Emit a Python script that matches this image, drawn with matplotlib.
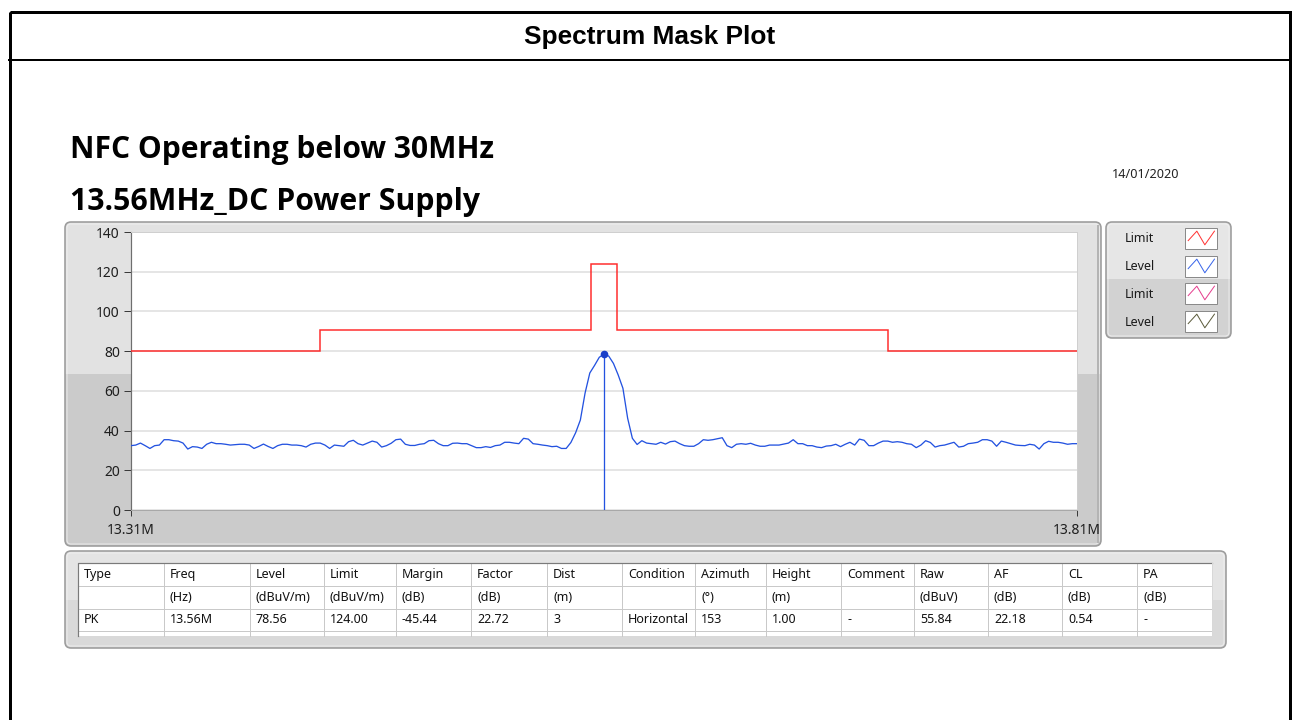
import numpy as np
import matplotlib
matplotlib.use("Agg")
import matplotlib.pyplot as plt
from matplotlib.patches import Rectangle, FancyBboxPatch
from matplotlib import font_manager as fm

# ---------------- data ----------------
freq_start, freq_stop = 13.31, 13.81          # MHz
level = [
    32.4, 32.7, 33.7, 32.4, 31.0, 32.4, 32.7, 35.4, 35.4, 34.9,
    34.7, 33.7, 30.7, 31.9, 31.7, 31.0, 33.1, 34.1, 33.4, 33.4,
    33.1, 32.7, 32.9, 33.1, 33.1, 32.7, 31.0, 32.0, 33.2, 32.0,
    31.0, 32.4, 33.1, 33.1, 32.7, 32.7, 32.4, 31.7, 33.1, 33.7,
    33.7, 32.7, 31.0, 32.7, 32.4, 32.1, 34.4, 35.1, 33.4, 32.7,
    33.7, 34.7, 34.1, 31.7, 32.4, 33.6, 35.4, 35.7, 33.1, 32.5,
    32.5, 33.1, 33.4, 34.9, 35.1, 33.4, 32.4, 32.4, 33.6, 33.7,
    33.4, 33.4, 32.4, 31.4, 31.4, 31.9, 31.5, 32.4, 32.7, 34.1,
    34.1, 33.7, 33.4, 36.1, 35.7, 33.4, 33.1, 32.7, 32.4, 31.9,
    32.1, 31.0, 31.0, 34.0, 38.9, 45.3, 58.9, 69.0, 72.8, 76.9,
    78.56, 77.5, 73.8, 68.0, 61.3, 46.2, 36.1, 33.0, 34.9, 33.7,
    33.4, 33.1, 34.1, 33.2, 34.4, 34.7, 33.4, 32.4, 32.1, 32.1,
    33.4, 35.4, 35.1, 35.4, 35.9, 36.4, 32.4, 31.4, 33.1, 33.4,
    33.1, 33.6, 32.7, 32.1, 32.1, 32.7, 32.7, 32.7, 33.2, 33.7,
    35.4, 33.4, 33.4, 32.4, 32.4, 31.7, 31.4, 32.2, 32.4, 33.1,
    31.9, 33.1, 34.1, 32.7, 35.7, 35.1, 32.4, 32.4, 33.7, 34.7,
    34.7, 34.1, 34.4, 34.1, 33.4, 33.1, 31.4, 32.7, 34.9, 34.0,
    31.7, 32.4, 32.7, 33.4, 34.1, 31.7, 32.1, 33.4, 33.7, 34.1,
    35.4, 35.4, 34.7, 32.1, 34.7, 34.1, 33.4, 32.7, 32.5, 32.4,
    33.1, 32.7, 30.7, 33.4, 34.6, 34.1, 34.1, 33.7, 33.1, 33.4,
    33.4,
]
freq = np.linspace(freq_start, freq_stop, len(level))   # sweep grid

limit_edges = [13.31, 13.41, 13.553, 13.567, 13.71, 13.81]
limit_values = [80, 90.5, 124, 90.5, 80]

peak_freq, peak_level = 13.56, 78.56

y_ticks = [0, 20, 40, 60, 80, 100, 120, 140]
x_ticks = [13.31, 13.81]
x_tick_labels = ["13.31M", "13.81M"]

legend_labels = ["Limit", "Level", "Limit", "Level"]
legend_colors = ["#ff3535", "#3a66ea", "#e5408f", "#5c5c3c"]

header_title = "Spectrum Mask Plot"
title1 = "NFC Operating below 30MHz"
title2 = "13.56MHz_DC Power Supply"
date_text = "14/01/2020"

table_cols = ["Type", "Freq", "Level", "Limit", "Margin", "Factor", "Dist",
              "Condition", "Azimuth", "Height", "Comment", "Raw", "AF", "CL", "PA"]
table_units = ["", "(Hz)", "(dBuV/m)", "(dBuV/m)", "(dB)", "(dB)", "(m)",
               "", "(°)", "(m)", "", "(dBuV)", "(dB)", "(dB)", "(dB)"]
table_row = ["PK", "13.56M", "78.56", "124.00", "-45.44", "22.72", "3",
             "Horizontal", "153", "1.00", "-", "55.84", "22.18", "0.54", "-"]

# ---------------- fonts ----------------
UI = ["Noto Sans", "DejaVu Sans"]


def bold_family():
    # pick an installed sans family that really has a bold face
    for fam in ("Open Sans", "Noto Sans", "Lato", "Roboto", "DejaVu Sans"):
        for f in fm.fontManager.ttflist:
            if f.name == fam and (f.weight in ("bold", 700) or
                                  (isinstance(f.weight, int) and f.weight >= 600)):
                return fam
    return "DejaVu Sans"


BOLD = [bold_family(), "DejaVu Sans"]

# ---------------- figure ----------------
W, H = 1295, 720
fig = plt.figure(figsize=(W / 100, H / 100), dpi=100)
fig.patch.set_facecolor("white")
bg = fig.add_axes([0, 0, 1, 1], zorder=0)
bg.set_xlim(0, W)
bg.set_ylim(H, 0)
bg.axis("off")

PX = 0.72  # points per pixel

# outer frame + header
bg.add_patch(Rectangle((9.5, 11.5), 1280, 730, fill=False, ec="black", lw=3 * PX))
bg.plot([9, 1290], [60, 60], color="black", lw=2 * PX)
hdr = bg.text(650, 37, header_title, ha="center", va="center",
              family=["Liberation Sans", "DejaVu Sans"], weight="bold", fontsize=15)

t1 = bg.text(70, 150, title1, ha="left", va="center", family=BOLD, weight="bold", fontsize=20)
t2 = bg.text(70, 202, title2, ha="left", va="center", family=BOLD, weight="bold", fontsize=20)
dt = bg.text(1112, 175, date_text, ha="left", va="center", family=UI, fontsize=8.5, color="#222222")


def panel(x, y, w, h, split, c_top, c_bot, r=6):
    p = FancyBboxPatch((x, y), w, h, boxstyle=f"round,pad=0,rounding_size={r}",
                       fc=c_top, ec="none", zorder=1)
    bg.add_patch(p)
    lower = Rectangle((x, split), w, y + h - split, fc=c_bot, ec="none", zorder=1)
    bg.add_patch(lower)
    lower.set_clip_path(p)
    b = FancyBboxPatch((x, y), w, h, boxstyle=f"round,pad=0,rounding_size={r}",
                       fc="none", ec="#9c9c9c", lw=1.6 * PX, zorder=2)
    bg.add_patch(b)
    inner = FancyBboxPatch((x + 2, y + 2), w - 4, h - 4, boxstyle=f"round,pad=0,rounding_size={r-2}",
                           fc="none", ec="#f2f2f2", lw=1 * PX, zorder=2, alpha=0.8)
    bg.add_patch(inner)


# graph panel
panel(65, 222, 1036, 324, 374, "#e2e2e2", "#cbcbcb")
bg.plot([1098, 1098], [226, 542], color="#b4b4b4", lw=2 * PX, zorder=2)
# legend panel
panel(1106, 222, 125, 116, 279, "#e6e6e6", "#d2d2d2")
# table panel
panel(65, 551, 1161, 97, 600, "#e4e4e4", "#d9d9d9")

# legend entries
box_tops = [228, 256, 283, 311]
for lab, col, yt in zip(legend_labels, legend_colors, box_tops):
    bg.text(1125, yt + 11, lab, ha="left", va="center", family=UI, fontsize=9, color="#1a1a1a", zorder=3)
    bg.add_patch(Rectangle((1185, yt), 32, 21, fc="white", ec="#8a8a8a", lw=1 * PX, zorder=3))
    zx = [1185 + 32 * f for f in (0.1, 0.37, 0.62, 0.92)]
    zy = [yt + 21 * f for f in (0.6, 0.15, 0.8, 0.15)]
    bg.plot(zx, zy, color=col, lw=1 * PX, zorder=4)

# table
col_x = [78, 164, 250, 324, 396, 471, 547, 622, 695, 766, 841, 914, 988, 1062, 1137, 1212]
row_y = [563, 586, 608.5, 631, 636]
bg.add_patch(Rectangle((col_x[0], row_y[0]), col_x[-1] - col_x[0], row_y[-1] - row_y[0],
                       fc="white", ec="none", zorder=3))
for yy in row_y[1:-1]:
    bg.plot([col_x[0], col_x[-1]], [yy, yy], color="#c9c9c9", lw=1 * PX, zorder=4)
for xx in col_x[1:-1]:
    bg.plot([xx, xx], [row_y[0], row_y[-1]], color="#c9c9c9", lw=1 * PX, zorder=4)
bg.plot([col_x[0], col_x[0], col_x[-1]], [row_y[-1], row_y[0], row_y[0]],
        color="#7a7a7a", lw=1.2 * PX, zorder=4)
bg.plot([col_x[-1], col_x[-1]], [row_y[0], row_y[-1]], color="#d8d8d8", lw=1 * PX, zorder=4)
for r, cells in enumerate([table_cols, table_units, table_row]):
    yc = (row_y[r] + row_y[r + 1]) / 2
    for c, txt in enumerate(cells):
        if txt:
            bg.text(col_x[c] + 6, yc, txt, ha="left", va="center", family=UI,
                    fontsize=9, color="#111111", zorder=5)

# ---------------- plot ----------------
L, R, T, B = 131, 1077, 232, 510
ax = fig.add_axes([L / W, (H - B) / H, (R - L) / W, (B - T) / H], zorder=2)
ax.set_facecolor("white")
ax.set_xlim(freq_start, freq_stop)
ax.set_ylim(0, 140)
ax.set_yticks(y_ticks)
ax.set_xticks(x_ticks)
ax.set_xticklabels(x_tick_labels)
ax.grid(axis="y", color="#dddddd", lw=1.5 * PX)
ax.set_axisbelow(True)
for s in ("top", "right"):
    ax.spines[s].set_color("#cfcfcf")
    ax.spines[s].set_linewidth(1 * PX)
ax.spines["left"].set_color("#6e6e6e")
ax.spines["left"].set_linewidth(1.2 * PX)
ax.spines["bottom"].set_color("#a8a8a8")
ax.spines["bottom"].set_linewidth(1 * PX)
ax.tick_params(axis="y", length=5, width=1 * PX, color="#3a3a3a", pad=3,
               labelsize=10, labelcolor="#1e1e1e")
ax.tick_params(axis="x", length=4, width=1 * PX, color="#3a3a3a", pad=5,
               labelsize=10, labelcolor="#1e1e1e")
for lab in ax.get_xticklabels() + ax.get_yticklabels():
    lab.set_family(UI)

ax.stairs(limit_values, limit_edges, baseline=None, color="#ff2a2a", lw=1.5 * PX, zorder=3)
ax.plot(freq, level, color="#2352e0", lw=1.3 * PX, zorder=4)
ax.plot([peak_freq, peak_freq], [0, peak_level], color="#2352e0", lw=1.3 * PX, zorder=4)
ax.plot([peak_freq], [peak_level], "o", color="#1a3fc8", ms=4.5, zorder=5)

# fit title widths to reference
fig.canvas.draw()
rend = fig.canvas.get_renderer()
for t, target in ((hdr, 252), (t1, 424), (t2, 410), (dt, 68)):
    w = t.get_window_extent(rend).width
    t.set_fontsize(t.get_fontsize() * target / w)

fig.savefig("out.png", dpi=100, facecolor="white")
